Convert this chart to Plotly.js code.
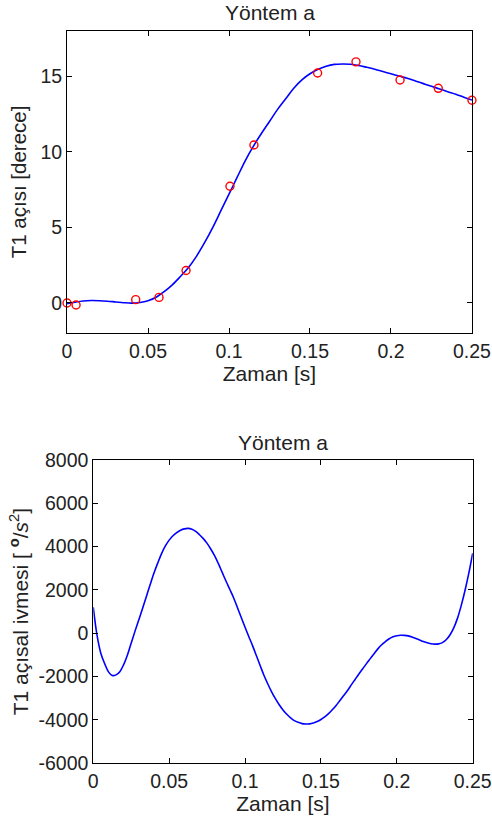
<!DOCTYPE html>
<html>
<head>
<meta charset="utf-8">
<script src="https://cdn.plot.ly/plotly-3.0.1.min.js"></script>
<style>html,body{margin:0;padding:0;background:#fff;} #chart{width:492px;height:818px;}</style>
</head>
<body>
<div id="chart"></div>
<script>
// Top plot: measured points (red circles)
const measTime = [0, 0.0056, 0.0424, 0.0568, 0.0735, 0.1006, 0.1154, 0.1547, 0.1784, 0.2056, 0.2292, 0.25];
const measAngle = [0, -0.13, 0.22, 0.37, 2.15, 7.72, 10.44, 15.2, 15.94, 14.74, 14.19, 13.4];

// Top plot: fitted curve (blue)
const fitTime = [0, 0.005, 0.01, 0.015, 0.02, 0.025, 0.03, 0.035, 0.04, 0.045, 0.05, 0.055, 0.06, 0.065, 0.07, 0.075, 0.08, 0.085, 0.09, 0.095, 0.1, 0.105, 0.11, 0.115, 0.12, 0.125, 0.13, 0.135, 0.14, 0.145, 0.15, 0.155, 0.16, 0.165, 0.17, 0.175, 0.18, 0.185, 0.19, 0.195, 0.2, 0.205, 0.21, 0.215, 0.22, 0.225, 0.23, 0.235, 0.24, 0.245, 0.25];
const fitAngle = [-0.05, 0.05, 0.13, 0.16, 0.15, 0.12, 0.07, 0.02, -0.01, 0.03, 0.15, 0.38, 0.75, 1.2, 1.75, 2.35, 3.1, 4.0, 5.0, 6.1, 7.2, 8.3, 9.4, 10.35, 11.2, 12.0, 12.8, 13.5, 14.2, 14.75, 15.15, 15.45, 15.65, 15.77, 15.8, 15.78, 15.7, 15.58, 15.45, 15.3, 15.15, 15.0, 14.85, 14.68, 14.5, 14.32, 14.15, 13.97, 13.8, 13.6, 13.42];

// Bottom plot: angular acceleration
const accTime = [0, 0.0025, 0.005, 0.0075, 0.01, 0.0125, 0.015, 0.0175, 0.02, 0.0225, 0.025, 0.0275, 0.03, 0.0325, 0.035, 0.0375, 0.04, 0.0425, 0.045, 0.0475, 0.05, 0.0525, 0.055, 0.0575, 0.06, 0.0625, 0.065, 0.0675, 0.07, 0.0725, 0.075, 0.0775, 0.08, 0.0825, 0.085, 0.0875, 0.09, 0.0925, 0.095, 0.0975, 0.1, 0.1025, 0.105, 0.1075, 0.11, 0.1125, 0.115, 0.1175, 0.12, 0.1225, 0.125, 0.1275, 0.13, 0.1325, 0.135, 0.1375, 0.14, 0.1425, 0.145, 0.1475, 0.15, 0.1525, 0.155, 0.1575, 0.16, 0.1625, 0.165, 0.1675, 0.17, 0.1725, 0.175, 0.1775, 0.18, 0.1825, 0.185, 0.1875, 0.19, 0.1925, 0.195, 0.1975, 0.2, 0.2025, 0.205, 0.2075, 0.21, 0.2125, 0.215, 0.2175, 0.22, 0.2225, 0.225, 0.2275, 0.23, 0.2325, 0.235, 0.2375, 0.24, 0.2425, 0.245, 0.2475, 0.25];
const accValue = [1200, -100, -930, -1400, -1780, -1950, -1920, -1770, -1450, -1000, -450, 100, 620, 1150, 1700, 2250, 2780, 3250, 3680, 4030, 4300, 4500, 4650, 4760, 4820, 4840, 4800, 4700, 4550, 4370, 4150, 3880, 3570, 3200, 2800, 2400, 2020, 1630, 1180, 730, 277, -160, -580, -1040, -1500, -1950, -2340, -2700, -3020, -3300, -3540, -3740, -3900, -4030, -4110, -4170, -4190, -4180, -4140, -4075, -3980, -3860, -3710, -3530, -3330, -3100, -2870, -2640, -2380, -2130, -1880, -1640, -1400, -1170, -940, -720, -530, -380, -250, -160, -110, -90, -95, -120, -170, -240, -310, -380, -440, -480, -500, -490, -430, -300, -80, 250, 700, 1300, 2000, 2800, 3700];

const xTicks = [0, 0.05, 0.1, 0.15, 0.2, 0.25];
const xTickText = ['0', '0.05', '0.1', '0.15', '0.2', '0.25'];
const topYTicks = [0, 5, 10, 15];
const botYTicks = [-6000, -4000, -2000, 0, 2000, 4000, 6000, 8000];
const botYTickText = ['-6000', '-4000', '-2000', '0', '2000', '4000', '6000', '8000'];

const FONT = 'Arial, "Liberation Sans", sans-serif';
const TXT = '#222222';

const traces = [
  {x: fitTime, y: fitAngle, mode: 'lines', line: {color: '#0000ff', width: 1.6, shape: 'spline'}, xaxis: 'x', yaxis: 'y', showlegend: false},
  {x: measTime, y: measAngle, mode: 'markers', marker: {symbol: 'circle-open', color: '#ff0000', size: 8, line: {width: 1.4, color: '#ff0000'}}, xaxis: 'x', yaxis: 'y', showlegend: false, cliponaxis: false},
  {x: accTime, y: accValue, mode: 'lines', line: {color: '#0000ff', width: 1.6, shape: 'spline'}, xaxis: 'x2', yaxis: 'y2', showlegend: false}
];

function ax(extra) {
  return Object.assign({
    showline: true, mirror: 'ticks', linecolor: '#000', linewidth: 1,
    ticks: 'inside', ticklen: 5, tickcolor: '#000', tickwidth: 1,
    showgrid: false, zeroline: false,
    tickfont: {family: FONT, size: 19.5, color: TXT},
    fixedrange: true
  }, extra);
}

const layout = {
  width: 492, height: 818,
  margin: {l: 0, r: 0, t: 0, b: 0},
  paper_bgcolor: '#fff', plot_bgcolor: '#fff',
  font: {family: FONT, color: TXT},
  xaxis: ax({domain: [0.1362, 0.9593], range: [0, 0.25], tickvals: xTicks, ticktext: xTickText, anchor: 'y',
    title: {text: 'Zaman [s]', font: {family: FONT, size: 21, color: TXT}, standoff: 1}}),
  yaxis: ax({domain: [0.5926, 0.9625], range: [-2, 18], tickvals: topYTicks, anchor: 'x',
    title: {text: 'T1 açısı [derece]', font: {family: FONT, size: 20.5, color: TXT}, standoff: 8}}),
  xaxis2: ax({domain: [0.1896, 0.9608], range: [0, 0.25], tickvals: xTicks, ticktext: xTickText, anchor: 'y2',
    title: {text: 'Zaman [s]', font: {family: FONT, size: 21, color: TXT}, standoff: 1}}),
  yaxis2: ax({domain: [0.0669, 0.4377], range: [-6000, 8000], tickvals: botYTicks, ticktext: botYTickText, anchor: 'x2',
    title: {text: 'T1 açısal ivmesi [ <sup><b>o</b></sup>/<i>s</i><sup>2</sup>]', font: {family: FONT, size: 21, color: TXT}, standoff: 4}}),
  annotations: [
    {text: 'Yöntem a', xref: 'paper', yref: 'paper', x: (67 + 472) / 2 / 492, y: 1 - 13 / 818, xanchor: 'center', yanchor: 'middle', showarrow: false, font: {family: FONT, size: 21, color: TXT}},
    {text: 'Yöntem a', xref: 'paper', yref: 'paper', x: (93.3 + 472.7) / 2 / 492, y: 1 - 442 / 818, xanchor: 'center', yanchor: 'middle', showarrow: false, font: {family: FONT, size: 21, color: TXT}}
  ]
};

Plotly.newPlot('chart', traces, layout, {staticPlot: true, displayModeBar: false});
</script>
</body>
</html>
